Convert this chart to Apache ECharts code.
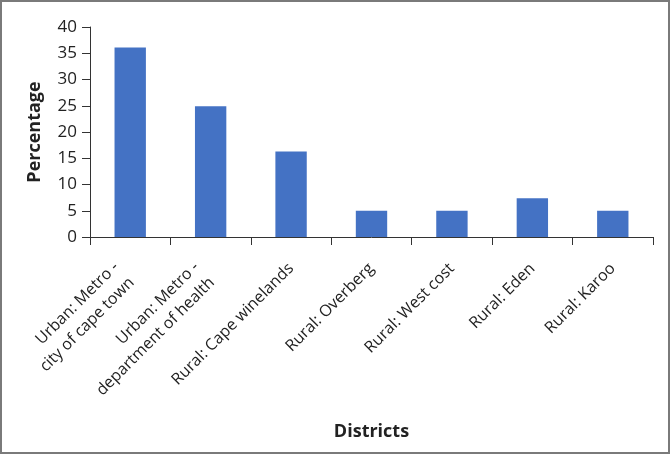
<!DOCTYPE html>
<html><head><meta charset="utf-8">
<script src="https://cdn.jsdelivr.net/npm/echarts@6/dist/echarts.min.js"></script>
<style>html,body{margin:0;padding:0;background:#fff}#c{width:670px;height:454px;box-sizing:border-box;border:2px solid #7a7a7a}</style>
</head><body><div id="c"></div>
<script>
const categories = ["Urban: Metro -\ncity of cape town","Urban: Metro -\ndepartment of health","Rural: Cape winelands","Rural: Overberg","Rural: West cost","Rural: Eden","Rural: Karoo"];
const values = [36.1, 24.9, 16.3, 5.0, 5.0, 7.4, 5.0];
const yTicks = {min: 0, max: 40, interval: 5};
const chart = echarts.init(document.getElementById('c'));
const font = '"Open Sans", sans-serif';
chart.setOption({
  animation: false,
  grid: {left: 88, right: 15, top: 25, bottom: 215, containLabel: false},
  xAxis: {
    type: 'category', data: categories,
    name: 'Districts', nameLocation: 'middle', nameGap: 186,
    nameTextStyle: {fontFamily: font, fontSize: 18, fontWeight: 'bold', color: '#222'},
    axisLine: {lineStyle: {color: '#333', width: 1}},
    axisTick: {show: true, length: 8, inside: false, alignWithLabel: false, lineStyle: {color: '#333'}},
    axisLabel: {rotate: 45, interval: 0, color: '#222', margin: 29,
      formatter: v => {
        const parts = v.split('\n');
        const st = parts.length > 1 ? 'd' : 'c';
        return parts.map(s => '{' + st + '|' + s + '}').join('\n');
      },
      rich: {
        c: {fontFamily: font, fontSize: 16, color: '#222', lineHeight: 22},
        d: {fontFamily: font, fontSize: 16, color: '#222', lineHeight: 22, padding: [0, 9, 0, 0]}
      }
    }
  },
  yAxis: {
    type: 'value', min: yTicks.min, max: yTicks.max, interval: yTicks.interval,
    name: 'Percentage', nameLocation: 'middle', nameGap: 46, nameRotate: 90,
    nameTextStyle: {fontFamily: font, fontSize: 18, fontWeight: 'bold', color: '#222'},
    splitLine: {show: false},
    axisLine: {show: true, lineStyle: {color: '#333', width: 1}},
    axisTick: {show: true, length: 8, lineStyle: {color: '#333'}},
    axisLabel: {fontFamily: font, fontSize: 17, color: '#222', margin: 13}
  },
  series: [{
    type: 'bar', data: values, barCategoryGap: '61%',
    itemStyle: {color: '#4472c4'}
  }]
});
</script></body></html>
